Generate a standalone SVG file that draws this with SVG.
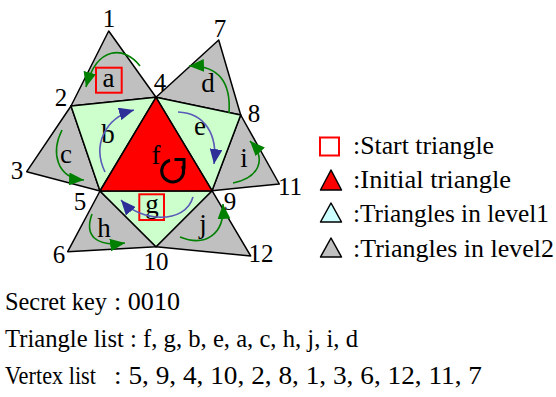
<svg xmlns="http://www.w3.org/2000/svg" width="556" height="397" viewBox="0 0 556 397">
<defs>
<style>
text{font-family:"Liberation Serif","Times New Roman",serif;fill:#000}
.num{font-size:25px;text-anchor:middle}
.lbl{font-size:27px;text-anchor:middle}
.leg{font-size:26px}
.bot{font-size:25px}
.tri{stroke:#000;stroke-width:1.5;stroke-linejoin:round}
.l2{fill:#c0c0c0}
.l1{fill:#ccffcc}
.l0{fill:#ff0000}
.box{fill:none;stroke:#ff0000;stroke-width:2}
.ga{fill:none;stroke:#008000;stroke-width:1.6;marker-end:url(#gh)}
.ba{fill:none;stroke:#5a5ab8;stroke-width:1.6;marker-end:url(#bh)}
</style>
<marker id="gh" markerUnits="userSpaceOnUse" markerWidth="16" markerHeight="13" refX="14" refY="6" orient="auto" viewBox="0 0 15 12">
<path d="M0,0 L14,6 L0,12 z" fill="#008000"/>
</marker>
<marker id="bh" markerUnits="userSpaceOnUse" markerWidth="16" markerHeight="13" refX="14" refY="6" orient="auto" viewBox="0 0 15 12">
<path d="M0,0 L14,6 L0,12 z" fill="#2e2e99"/>
</marker>
</defs>
<rect width="556" height="397" fill="#fff"/>

<g id="tri-a"><polygon class="tri l2" points="108.7,31 71,106 156,97.3"/><text class="lbl" x="108.5" y="86.5">a</text><rect class="box" x="96" y="67.7" width="25.7" height="25"/></g>
<g id="tri-d"><polygon class="tri l2" points="218.7,40 156,97.3 240.7,115"/><text class="lbl" x="208" y="92">d</text></g>
<g id="tri-c"><polygon class="tri l2" points="71,106 26.7,171.7 100,191"/><text class="lbl" x="66" y="163">c</text></g>
<g id="tri-i"><polygon class="tri l2" points="240.7,115 279.3,184 212,190.7"/><text class="lbl" x="244" y="167">i</text></g>
<g id="tri-h"><polygon class="tri l2" points="100,191 67.7,251.7 156,246.7"/><text class="lbl" x="104" y="237">h</text></g>
<g id="tri-j"><polygon class="tri l2" points="212,190.7 156,246.7 250.7,256"/><text class="lbl" x="203" y="233">j</text></g>
<g id="tri-b"><polygon class="tri l1" points="71,106 156,97.3 100,191"/><text class="lbl" x="108" y="143">b</text></g>
<g id="tri-e"><polygon class="tri l1" points="156,97.3 240.7,115 212,190.7"/><text class="lbl" x="200" y="135">e</text></g>
<g id="tri-g"><polygon class="tri l1" points="100,191 212,190.7 156,246.7"/><text class="lbl" x="152" y="213">g</text><rect class="box" x="139.3" y="194.3" width="24.7" height="25.7"/></g>
<g id="tri-f"><polygon class="tri l0" points="156,97.3 100,191 212,190.7"/><text class="lbl" x="156" y="164">f</text>
<path d="M170,160.3 A11,11 0 1 0 182.5,166" fill="none" stroke="#000" stroke-width="3"/>
<path d="M174.5,159.5 L184,159.5 L184,169" fill="none" stroke="#000" stroke-width="3"/></g>

<g id="connectors">
<path class="ga" d="M140,66 C125,46 97,45 86,87"/>
<path class="ga" d="M229,113 C231,84 220,65 189,66"/>
<path class="ga" d="M62,130 C51,152 56,178 84,180"/>
<path class="ga" d="M233,183 C258,178 268,160 250,141"/>
<path class="ga" d="M92,214 C84,236 96,247 125,243"/>
<path class="ga" d="M180,237 C205,247 225,235 223,204"/>
<path class="ba" d="M105,172 C92,145 105,118 134,110"/>
<path class="ba" d="M178,112 C205,113 218,135 214,164"/>
<path class="ba" d="M193,197 C185,225 140,222 121,200"/>
</g>

<g id="vertex-labels">
<text class="num" x="109" y="27">1</text>
<text class="num" x="220" y="37">7</text>
<text class="num" x="160" y="91">4</text>
<text class="num" x="61" y="106">2</text>
<text class="num" x="254" y="122">8</text>
<text class="num" x="17" y="179">3</text>
<text class="num" x="80" y="210">5</text>
<text class="num" x="230" y="210">9</text>
<text class="num" x="290" y="195">11</text>
<text class="num" x="59" y="263">6</text>
<text class="num" x="156" y="270">10</text>
<text class="num" x="261" y="262">12</text>
</g>

<g id="legend">
<rect class="box" x="320" y="137.5" width="19" height="18"/>
<text class="leg" x="353" y="154" textLength="141" lengthAdjust="spacingAndGlyphs">:Start triangle</text>
<polygon class="tri l0" points="331,170 320.5,190 341.5,190"/>
<text class="leg" x="353" y="188" textLength="158" lengthAdjust="spacingAndGlyphs">:Initial triangle</text>
<polygon class="tri" fill="#ccffff" points="331,203 320.5,222 341.5,222"/>
<text class="leg" x="353" y="222" textLength="196" lengthAdjust="spacingAndGlyphs">:Triangles in level1</text>
<polygon class="tri l2" points="331,238 320.5,257 341.5,257"/>
<text class="leg" x="353" y="257" textLength="201" lengthAdjust="spacingAndGlyphs">:Triangles in level2</text>
</g>

<g id="bottom-text">
<text class="bot" x="5" y="310" textLength="102" lengthAdjust="spacingAndGlyphs">Secret key</text>
<text class="bot" x="114" y="310" textLength="66" lengthAdjust="spacingAndGlyphs">: 0010</text>
<text class="bot" x="5" y="347" textLength="353" lengthAdjust="spacingAndGlyphs">Triangle list : f, g, b, e, a, c, h, j, i, d</text>
<text class="bot" x="5" y="384" textLength="91" lengthAdjust="spacingAndGlyphs">Vertex list</text>
<text class="bot" x="114" y="384" textLength="368" lengthAdjust="spacingAndGlyphs">: 5, 9, 4, 10, 2, 8, 1, 3, 6, 12, 11, 7</text>
</g>
</svg>
